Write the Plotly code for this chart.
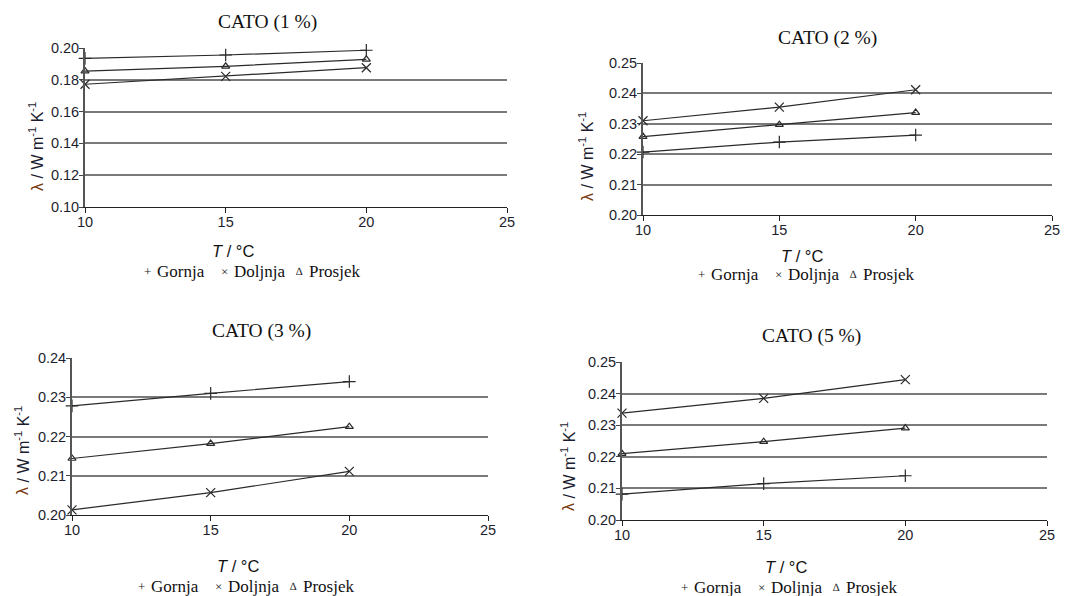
import plotly.graph_objects as go

T = [10, 15, 20]

titles = ["CATO (1 %)", "CATO (2 %)", "CATO (3 %)", "CATO (5 %)"]
legend_names = ["Gornja", "Doljnja", "Prosjek"]
legend_symbols = ["+", "×", "∆"]

gornja = [
    [0.1935, 0.1956, 0.1986],
    [0.2207, 0.2240, 0.2263],
    [0.2278, 0.2310, 0.2340],
    [0.2082, 0.2115, 0.2140],
]
doljnja = [
    [0.1772, 0.1822, 0.1876],
    [0.2310, 0.2355, 0.2412],
    [0.2013, 0.2057, 0.2111],
    [0.2338, 0.2385, 0.2444],
]
prosjek = [
    [0.1855, 0.1885, 0.1929],
    [0.2258, 0.2297, 0.2337],
    [0.2144, 0.2182, 0.2225],
    [0.2210, 0.2248, 0.2291],
]

y_ranges = [[0.10, 0.20], [0.20, 0.25], [0.20, 0.24], [0.20, 0.25]]
y_dticks = [0.02, 0.01, 0.01, 0.01]
x_range = [10, 25]

W, H = 1070, 596
# plot boxes in pixels: left, right, top, bottom
boxes = [
    (85, 507, 48, 207),
    (643, 1052, 63, 215),
    (72, 488, 358, 515),
    (622, 1047, 362, 520),
]
title_pos = [(267, 22), (827, 38), (261, 331), (811, 336)]
ytitle_pos = [(37, 193), (587, 203), (22, 497), (568, 513)]  # x centre, bottom of text
xtitle_pos = [(233, 251), (802, 256), (238, 566), (786, 567)]
legend_pos = [(147, 271), (701, 274), (141, 586), (684, 587)]  # centre of first symbol
sym_dx = [0, 77, 152]
name_dx = [8, 85, 160]
sym_sizes = [13, 13, 11]

fig = go.Figure()
line_col = "#2a2a2a"
series = [
    (gornja, "cross-thin"),
    (doljnja, "x-thin"),
    (prosjek, "triangle-up-open"),
]

annotations = []


def px_ann(x, y, text, font, **kw):
    d = dict(x=x / W, y=1 - y / H, xref="paper", yref="paper", showarrow=False,
             text=text, font=font)
    d.update(kw)
    annotations.append(d)


for i in range(4):
    sx = "" if i == 0 else str(i + 1)
    xa, ya = "x" + sx, "y" + sx
    for (data, sym), name in zip(series, legend_names):
        fig.add_trace(go.Scatter(
            x=T, y=data[i], mode="lines+markers", name=name,
            xaxis=xa, yaxis=ya, showlegend=False, cliponaxis=False,
            line=dict(color=line_col, width=1.2),
            marker=dict(symbol=sym, size=9 if sym != "triangle-up-open" else 7,
                        color=line_col, line=dict(color=line_col, width=1.2)),
        ))
    l, r, t, b = boxes[i]
    dom_x = [l / W, r / W]
    dom_y = [1 - b / H, 1 - t / H]
    axis_font = dict(family="Liberation Sans, Arial", size=14.5, color="#1e1e2e")
    fig.layout["xaxis" + sx] = dict(
        domain=dom_x, range=x_range, dtick=5, tick0=10, anchor=ya,
        showgrid=False, showline=True, linecolor="#222", linewidth=1.2,
        ticks="outside", ticklen=5, tickcolor="#222", tickfont=axis_font,
        ticklabelstandoff=-4,
        zeroline=False, fixedrange=True, automargin=False,
    )
    fig.layout["yaxis" + sx] = dict(
        domain=dom_y, range=y_ranges[i], dtick=y_dticks[i], tick0=y_ranges[i][0],
        anchor=xa, tickformat=".2f",
        showgrid=True, gridcolor="#7a7a7a", gridwidth=1.8,
        showline=True, linecolor="#555", linewidth=1.8,
        ticks="outside", ticklen=4, tickcolor="#444", tickfont=axis_font,
        ticklabelstandoff=-3,
        zeroline=False, fixedrange=True, automargin=False,
    )
    tx, ty = title_pos[i]
    px_ann(tx, ty, titles[i],
           dict(family="Liberation Serif, Times New Roman", size=19.5, color="#111"),
           xanchor="center", yanchor="middle")
    yx, yb = ytitle_pos[i]
    px_ann(yx, yb, "λ", dict(family="Liberation Sans, Arial", size=16, color="#7a3a12"),
           textangle=-90, xanchor="center", yanchor="bottom")
    px_ann(yx, yb - 12, "/ W m<sup>-1</sup> K<sup>-1</sup>",
           dict(family="Liberation Sans, Arial", size=16, color="#1c1c30"),
           textangle=-90, xanchor="center", yanchor="bottom")
    xx, xy = xtitle_pos[i]
    px_ann(xx, xy, "<i>T</i> / °C",
           dict(family="Liberation Sans, Arial", size=16.5, color="#111"),
           xanchor="center", yanchor="middle")
    lx, ly = legend_pos[i]
    for k in range(3):
        px_ann(lx + sym_dx[k], ly, legend_symbols[k],
               dict(family="Liberation Serif, Times New Roman", size=sym_sizes[k], color="#222"),
               xanchor="center", yanchor="middle")
        px_ann(lx + name_dx[k], ly, legend_names[k],
               dict(family="Liberation Serif, Times New Roman", size=17, color="#111"),
               xanchor="left", yanchor="middle")

fig.update_layout(
    width=W, height=H, autosize=False,
    margin=dict(l=0, r=0, t=0, b=0, pad=0, autoexpand=False),
    paper_bgcolor="white", plot_bgcolor="white",
    annotations=annotations, showlegend=False,
)

fig.write_html(
    "out.html",
    config={"displayModeBar": False},
    post_script="document.body.style.margin='0px';document.body.style.overflow='hidden';",
)
